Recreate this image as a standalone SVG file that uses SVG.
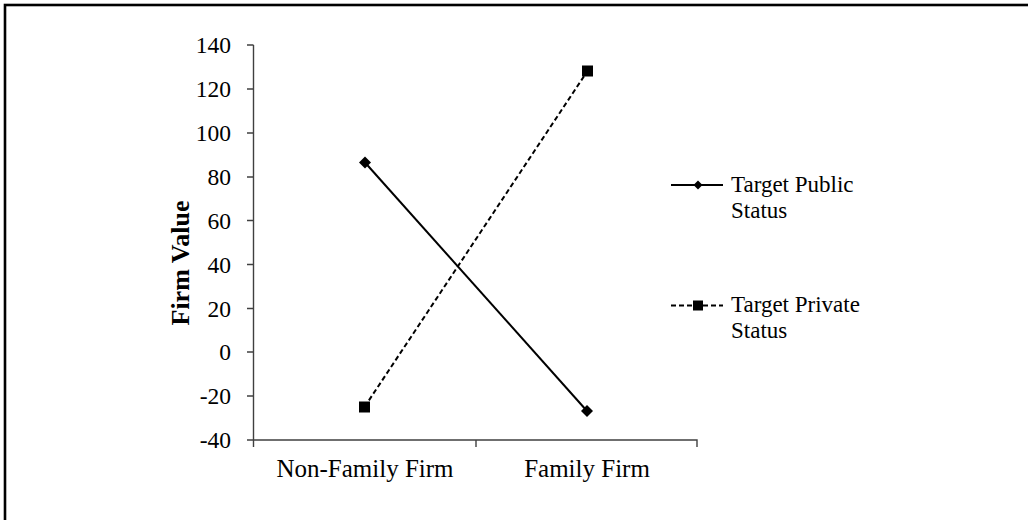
<svg xmlns="http://www.w3.org/2000/svg" width="1028" height="520" viewBox="0 0 1028 520">
<style>
.t{font-family:"Liberation Serif","Times New Roman",serif;fill:#000}
.tick{font-size:23.5px;text-anchor:end}
.cat{font-size:25px;text-anchor:middle}
.leg{font-size:23px}
.ax{stroke:#404040;stroke-width:1.4;fill:none}
.s1{stroke:#000;stroke-width:2;fill:none}
.s2{stroke:#000;stroke-width:2;fill:none;stroke-dasharray:5 3}
</style>
<defs>
<path id="dia" d="M0,-6 L6,0 L0,6 L-6,0 Z" fill="#000"/>
<rect id="sq" x="-5.5" y="-5.5" width="11" height="11" fill="#000"/>
</defs>
<rect x="0" y="0" width="1028" height="520" fill="#fff"/>
<rect x="5" y="5" width="1040" height="540" fill="none" stroke="#000" stroke-width="2.6"/>
<g id="axes">
<path class="ax" d="M253.5,45 V440 H697 V447 M476,440 V447 M253.5,440 V447 M247,45 H253.5 M247,89 H253.5 M247,133 H253.5 M247,177 H253.5 M247,220.5 H253.5 M247,264.5 H253.5 M247,308.5 H253.5 M247,352 H253.5 M247,396 H253.5 M247,440 H253.5"/>
<g class="t tick">
<text x="231" y="53">140</text>
<text x="231" y="97">120</text>
<text x="231" y="141">100</text>
<text x="231" y="185">80</text>
<text x="231" y="228.5">60</text>
<text x="231" y="272.5">40</text>
<text x="231" y="316.5">20</text>
<text x="231" y="360">0</text>
<text x="231" y="404">-20</text>
<text x="231" y="448">-40</text>
</g>
<text class="t cat" x="365" y="477">Non-Family Firm</text>
<text class="t cat" x="587" y="477">Family Firm</text>
<text class="t" x="189" y="263" font-size="26" font-weight="bold" text-anchor="middle" transform="rotate(-90 189 263)">Firm Value</text>
</g>
<g id="connectors">
<line class="s1" x1="365" y1="162.5" x2="587" y2="411"/>
<line class="s2" x1="364.5" y1="407" x2="587.5" y2="71"/>
</g>
<g id="public-points">
<use href="#dia" x="365" y="162.5"/>
<use href="#dia" x="587" y="411"/>
</g>
<g id="private-points">
<use href="#sq" x="364.5" y="407"/>
<use href="#sq" x="587.5" y="71"/>
</g>
<g id="legend-public">
<line class="s1" x1="671" y1="185" x2="723" y2="185"/>
<path d="M698,180.5 L702.5,185 L698,189.5 L693.5,185 Z" fill="#000"/>
<text class="t leg" x="731" y="192">Target Public</text>
<text class="t leg" x="731" y="218">Status</text>
</g>
<g id="legend-private">
<line class="s2" x1="671" y1="305.5" x2="723" y2="305.5"/>
<rect x="693" y="300.5" width="10" height="10" fill="#000"/>
<text class="t leg" x="731" y="312">Target Private</text>
<text class="t leg" x="731" y="338">Status</text>
</g>
</svg>
